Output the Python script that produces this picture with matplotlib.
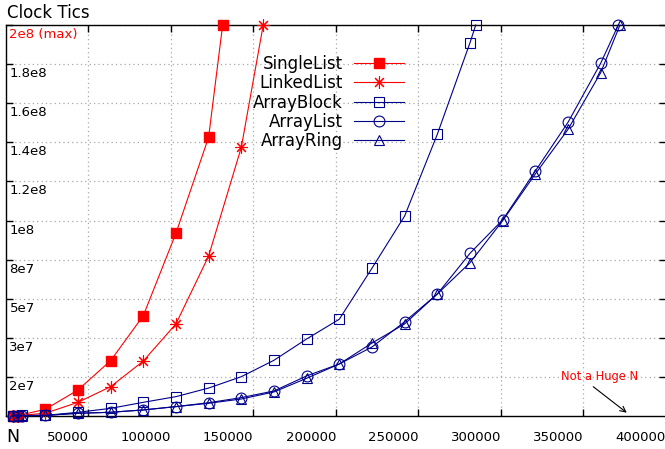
import matplotlib
matplotlib.use("Agg")
import matplotlib.pyplot as plt

# ---- data ----
n_single = [4000, 7000, 23800, 43600, 63400, 83200, 103000, 122800, 131300]
single_list = [0.1e6, 0.2e6, 3.4e6, 13.3e6, 28.3e6, 51.3e6, 93.5e6, 142.6e6, 200e6]

n_linked = [4000, 7000, 23800, 43600, 63400, 83200, 103000, 122800, 142600, 155900]
linked_list = [0.1e6, 0.2e6, 1.4e6, 7.0e6, 15.0e6, 28.1e6, 47.1e6, 81.8e6, 137.4e6, 200e6]

n_block = [4000, 7000, 10000, 23800, 43600, 63400, 83200, 103000, 122800, 142600,
           162400, 182200, 202000, 221800, 241600, 261400, 281200, 284700]
array_block = [0.1e6, 0.2e6, 0.3e6, 0.3e6, 1.9e6, 3.9e6, 7.0e6, 9.9e6, 14.3e6, 20.1e6,
               28.5e6, 39.4e6, 49.5e6, 75.6e6, 102.3e6, 144.1e6, 190.9e6, 200e6]

n_list = [4000, 7000, 10000, 23800, 43600, 63400, 83200, 103000, 122800, 142600, 162400,
          182200, 202000, 221800, 241600, 261400, 281200, 301000, 320800, 340600,
          360400, 371100]
array_list = [0.1e6, 0.1e6, 0.2e6, 0.3e6, 1.4e6, 1.9e6, 3.1e6, 4.8e6, 6.8e6, 9.4e6, 12.8e6,
              20.5e6, 26.6e6, 35.3e6, 48.2e6, 62.4e6, 83.2e6, 100.3e6, 125.3e6,
              150.2e6, 180.4e6, 200e6]

n_ring = [4000, 7000, 10000, 23800, 43600, 63400, 83200, 103000, 122800, 142600, 162400,
          182200, 202000, 221800, 241600, 261400, 281200, 301000, 320800, 340600,
          360400, 372100]
array_ring = [0.1e6, 0.1e6, 0.2e6, 0.3e6, 1.4e6, 1.9e6, 3.1e6, 4.8e6, 6.5e6, 8.7e6, 12.3e6,
              19.3e6, 26.6e6, 37.3e6, 47.1e6, 62.4e6, 78.4e6, 99.9e6, 123.8e6,
              146.6e6, 175.6e6, 200e6]

x_tick_values = [50000, 100000, 150000, 200000, 250000, 300000, 350000, 400000]
x_tick_labels = ["50000", "100000", "150000", "200000", "250000", "300000", "350000", "400000"]
y_tick_values = [2e7, 4e7, 6e7, 8e7, 1e8, 1.2e8, 1.4e8, 1.6e8, 1.8e8, 2e8]
y_tick_labels = ["2e7", "3e7", "5e7", "8e7", "1e8", "1.2e8", "1.4e8", "1.6e8", "1.8e8", "2e8 (max)"]

RED = "#ff0000"
BLUE = "#00008b"

W, H = 665, 449
fig = plt.figure(figsize=(W / 100, H / 100), dpi=100)
left_px, right_px, top_px, bottom_px = 6, 666, 25, 416
ax = fig.add_axes([left_px / W, 1 - bottom_px / H, (right_px - left_px) / W, (bottom_px - top_px) / H])
ax.set_xlim(0, 400000)
ax.set_ylim(0, 2e8)

# grid
ax.set_xticks(x_tick_values)
ax.set_yticks(y_tick_values)
ax.grid(True, color="#a8a8a8", linestyle=(0, (1, 2.5)), linewidth=0.9, zorder=0)
ax.set_axisbelow(True)

lw = 0.8
mew = 0.8
ax.plot(n_single, single_list, color=RED, lw=lw, marker="s", markersize=7.5,
        markerfacecolor=RED, markeredgecolor=RED, label="SingleList", clip_on=False, zorder=3)
ax.plot(n_linked, linked_list, color=RED, lw=lw, marker=(8, 2, 0), markersize=9,
        markeredgewidth=mew, label="LinkedList", clip_on=False, zorder=3)
ax.plot(n_block, array_block, color=BLUE, lw=lw, marker="s", markersize=7.2,
        markerfacecolor="none", markeredgewidth=mew, label="ArrayBlock", clip_on=False, zorder=3)
ax.plot(n_list, array_list, color=BLUE, lw=lw, marker="o", markersize=7.8,
        markerfacecolor="none", markeredgewidth=mew, label="ArrayList", clip_on=False, zorder=3)
ax.plot(n_ring, array_ring, color=BLUE, lw=lw, marker="^", markersize=7.8,
        markerfacecolor="none", markeredgewidth=mew, label="ArrayRing", clip_on=False, zorder=3)

# spines / ticks
for s in ax.spines.values():
    s.set_linewidth(1.0)
ax.spines["right"].set_visible(False)
ax.tick_params(axis="both", direction="in", length=5, width=1.0, top=True, right=True,
               labelsize=9.5)
ax.tick_params(axis="x", pad=11)
ax.set_xticklabels(x_tick_labels)
for lab in ax.get_xticklabels():
    lab.set_horizontalalignment("right")
ax.set_yticklabels([])

# y labels drawn inside the plot, just below their gridlines
for v, t in zip(y_tick_values, y_tick_labels):
    ax.annotate(t, xy=(0, v), xycoords=("axes fraction", "data"),
                xytext=(2.5, -2.2), textcoords="offset points",
                ha="left", va="top", fontsize=9.5,
                color=RED if "max" in t else "#000000", zorder=4)

# legend
leg = ax.legend(loc="upper right", bbox_to_anchor=(404 / W, 1 - 55 / H),
                bbox_transform=fig.transFigure, frameon=False, markerfirst=False,
                fontsize=12, handlelength=3.0, handletextpad=0.65, labelspacing=0.08,
                borderpad=0, borderaxespad=0)
leg.set_zorder(5)

# annotation
ax.annotate("", xy=(376200, 1.7e6), xytext=(355900, 15e6),
            arrowprops=dict(arrowstyle="->", color="black", lw=0.8, shrinkA=0, shrinkB=0,
                            mutation_scale=10))
ax.text(359700, 2e7, "Not a Huge N", color=RED, fontsize=8.3, ha="center", va="center", zorder=4)

# title and N
fig.text(7 / W, 1 - 13 / H, "Clock Tics", fontsize=12, ha="left", va="center")
fig.text(12.5 / W, 1 - 437 / H, "N", fontsize=12.5, ha="center", va="center")

fig.savefig("out.png", dpi=100)
